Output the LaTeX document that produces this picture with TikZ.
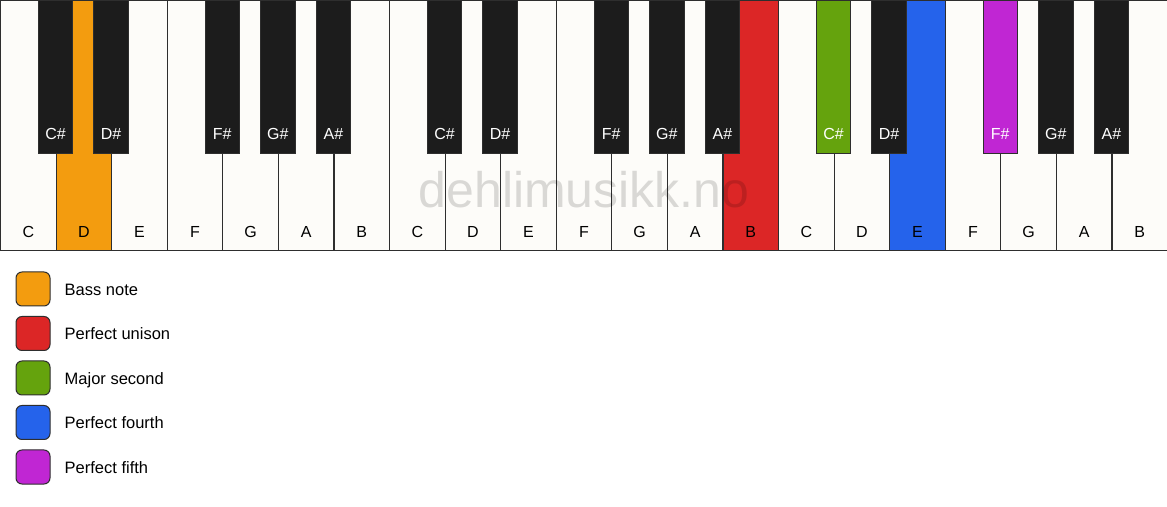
\documentclass[tikz,border=0pt]{standalone}
\usepackage{fontspec}
\setmainfont{Liberation Sans}
\usepackage{xcolor}
\usetikzlibrary{positioning}
\definecolor{keywhite}{HTML}{FDFCF9}
\definecolor{keyblack}{HTML}{1C1C1C}
\definecolor{keyline}{HTML}{2E2E2E}
\definecolor{bassorange}{HTML}{F39C0F}
\definecolor{unisonred}{HTML}{DC2626}
\definecolor{secondgreen}{HTML}{65A30D}
\definecolor{fourthblue}{HTML}{2563EB}
\definecolor{fifthpurple}{HTML}{C026D3}

\begin{document}
\begin{tikzpicture}[x=1pt, y=1pt,
	whitekey/.style={draw=keyline, line width=1.2pt, minimum width=55.57pt, minimum height=250pt, anchor=north west, inner sep=0pt},
	blackkey/.style={draw=keyline, line width=1pt, minimum width=34.5pt, minimum height=153pt, anchor=north, inner sep=0pt},
	keylabel/.style={font=\fontsize{16}{16}\selectfont, inner sep=0pt, text height=12pt, text depth=0pt},
	legendbox/.style={draw=keyline, line width=1pt, rounded corners=6pt, minimum size=34pt, inner sep=0pt},
	legendtext/.style={font=\fontsize{16.5}{16.5}\selectfont, inner sep=0pt, text height=13pt, text depth=0pt, anchor=west}]
	\useasboundingbox (0,0) rectangle (1167,506);
	
	% White keys
	\foreach \n/\c [count=\i from 0] in {C/keywhite, D/bassorange, E/keywhite, F/keywhite, G/keywhite, A/keywhite, B/keywhite,
		C/keywhite, D/keywhite, E/keywhite, F/keywhite, G/keywhite, A/keywhite, B/unisonred,
		C/keywhite, D/keywhite, E/fourthblue, F/keywhite, G/keywhite, A/keywhite, B/keywhite} {
		\node[whitekey, fill=\c] (w\i) at (55.57*\i, 506) {};
		\node[keylabel, above=13pt of w\i.south, anchor=south] (lw\i) {\n};
	}
	
	% Watermark
	\node[font=\fontsize{50}{50}\selectfont, text=black, opacity=0.14, anchor=base, inner sep=0pt] (mark) at (584, 298) {dehlimusikk.no};
	
	% Black keys
	\foreach \b/\n/\c in {1/C/keyblack, 2/D/keyblack, 4/F/keyblack, 5/G/keyblack, 6/A/keyblack,
		8/C/keyblack, 9/D/keyblack, 11/F/keyblack, 12/G/keyblack, 13/A/keyblack,
		15/C/secondgreen, 16/D/keyblack, 18/F/fifthpurple, 19/G/keyblack, 20/A/keyblack} {
		\node[blackkey, fill=\c] (b\b) at (55.57*\b, 506) {};
		\node[keylabel, text=white, above=14pt of b\b.south, anchor=south] (lb\b) {\n\#};
	}
	
	% Legend
	\foreach \c/\t [count=\i] in {bassorange/Bass note, unisonred/Perfect unison, secondgreen/Major second,
		fourthblue/Perfect fourth, fifthpurple/Perfect fifth} {
		\node[legendbox, fill=\c] (s\i) at (33, 261.5-44.5*\i) {};
		\node[legendtext, right=14pt of s\i.east] (t\i) {\t};
	}
\end{tikzpicture}
\end{document}
